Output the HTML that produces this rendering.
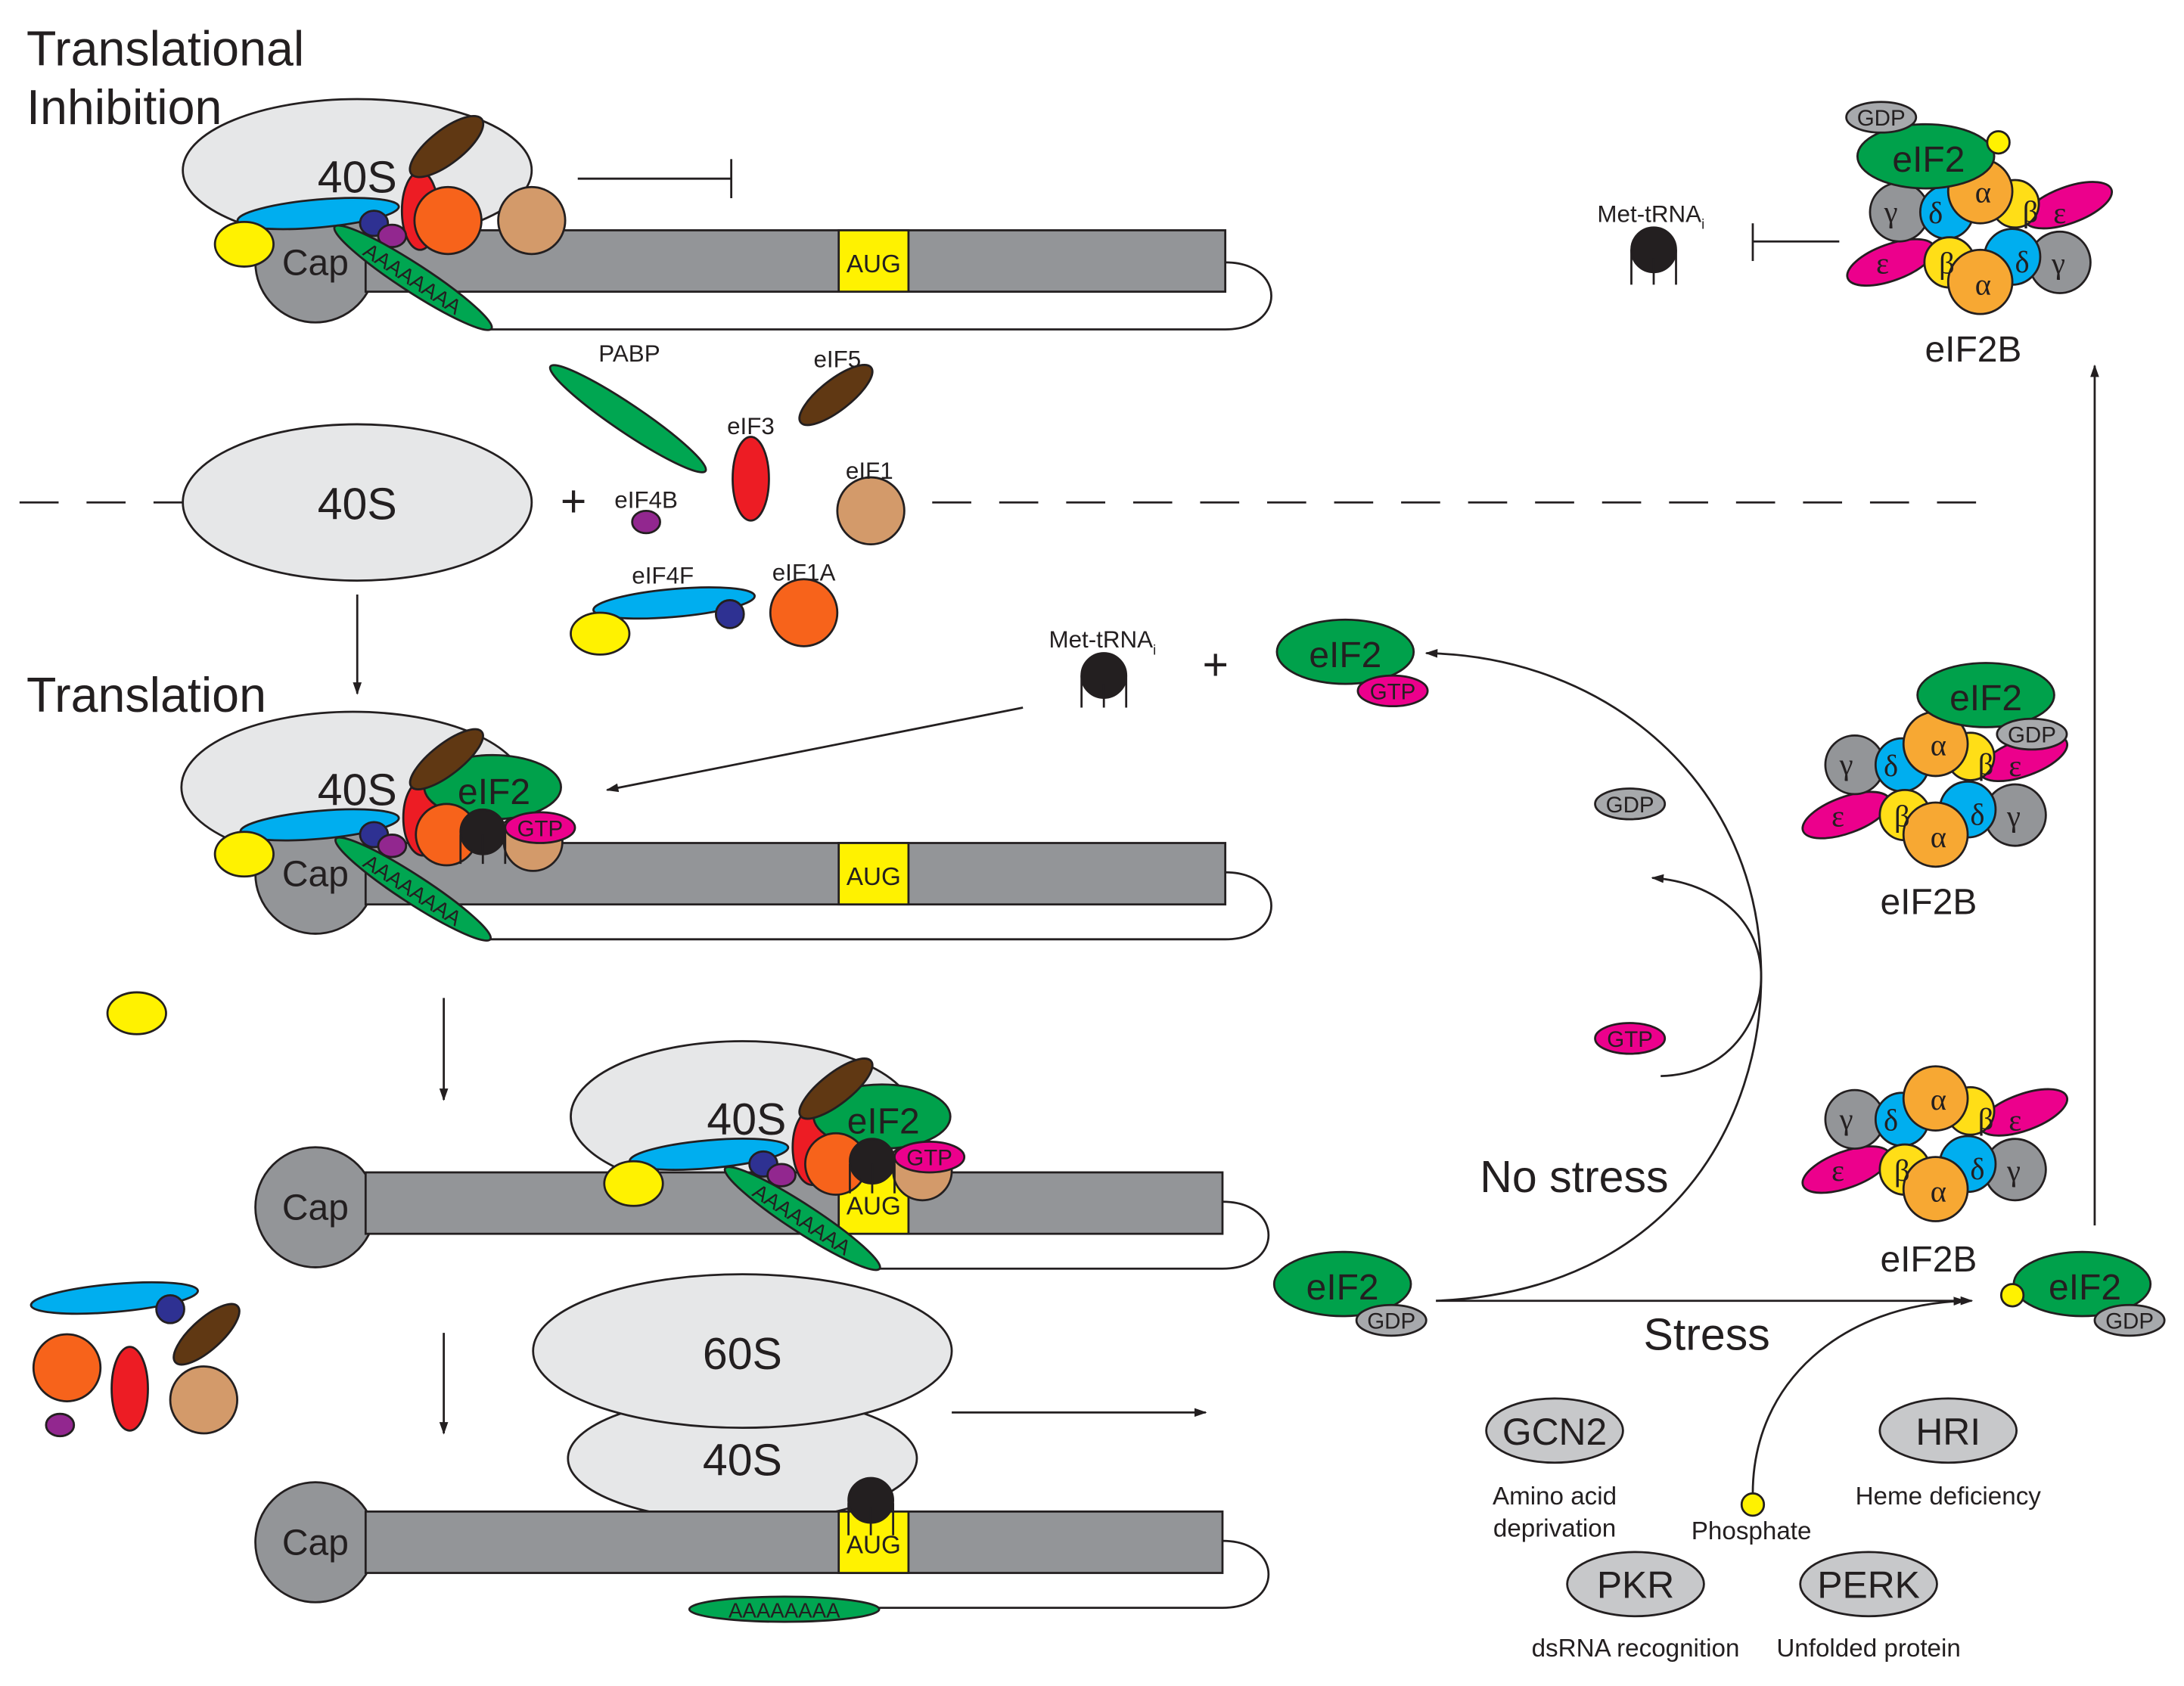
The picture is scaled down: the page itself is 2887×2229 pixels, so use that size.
<!DOCTYPE html>
<html><head><meta charset="utf-8"><style>
html,body{margin:0;padding:0;background:#fff;}
svg{display:block;}
text{font-family:"Liberation Sans",sans-serif;}
.g{font-family:"Liberation Serif",serif;font-size:22px;text-anchor:middle;}
</style></head><body>
<svg width="2887" height="2229" viewBox="0 0 1565 1208" preserveAspectRatio="none" xmlns="http://www.w3.org/2000/svg">
<defs>
<marker id="ah" viewBox="0 0 10 10" refX="9" refY="5" markerWidth="9" markerHeight="9" orient="auto" markerUnits="userSpaceOnUse"><path d="M0,1.5 L10,5 L0,8.5 Z" fill="#231f20"/></marker>
</defs>
<g stroke="#231f20" stroke-width="1.5">

<text x="19" y="47" font-size="35" stroke="none" fill="#231f20">Translational</text>
<text x="19" y="89" font-size="35" stroke="none" fill="#231f20">Inhibition</text>
<text x="19" y="510" font-size="35" stroke="none" fill="#231f20">Translation</text>

<!-- ROW 1 -->
<path d="M878,188 C922,188 922,236 878,236 L350,236" fill="none"/>
<ellipse cx="256" cy="122" rx="125" ry="51" fill="#e6e7e8"/>
<text x="256" y="138" font-size="32" text-anchor="middle" stroke="none" fill="#231f20">40S</text>
<circle cx="226" cy="188" r="43" fill="#939598"/>
<rect x="262" y="165" width="616" height="44" fill="#939598"/>
<rect x="601" y="165" width="50" height="44" fill="#fff200"/>
<text x="626" y="195" font-size="18" text-anchor="middle" stroke="none" fill="#231f20">AUG</text>
<text x="226" y="197" font-size="26" text-anchor="middle" stroke="none" fill="#231f20">Cap</text>
<ellipse cx="228" cy="153" rx="58" ry="10" fill="#00aeef" transform="rotate(-5 228 153)"/>
<ellipse cx="175" cy="175" rx="21" ry="16" fill="#fff200"/>
<ellipse cx="301" cy="151" rx="13" ry="28" fill="#ed1c24"/>
<circle cx="321" cy="158" r="24" fill="#f7631b"/>
<circle cx="381" cy="158" r="24" fill="#d39a6a"/>
<ellipse cx="320" cy="105" rx="32" ry="12" fill="#603813" transform="rotate(-38 320 105)"/>
<ellipse cx="268" cy="160" rx="10" ry="9" fill="#2e3192"/>
<ellipse cx="281" cy="169" rx="10" ry="8" fill="#92278f"/>
<g transform="translate(296,199) rotate(33)"><ellipse cx="0" cy="0" rx="67" ry="10" fill="#00a651"/><text x="0" y="6" font-size="15" text-anchor="middle" stroke="none" fill="#231f20">AAAAAAAA</text></g>
<line x1="414" y1="128" x2="524" y2="128"/>
<line x1="524" y1="114" x2="524" y2="142"/>

<!-- MIDDLE -->
<line x1="14" y1="360" x2="131" y2="360" stroke-dasharray="28,20"/>
<line x1="668" y1="360" x2="1436" y2="360" stroke-dasharray="28,20"/>
<ellipse cx="256" cy="360" rx="125" ry="56" fill="#e6e7e8"/>
<text x="256" y="372" font-size="32" text-anchor="middle" stroke="none" fill="#231f20">40S</text>
<text x="411" y="370" font-size="32" text-anchor="middle" stroke="none" fill="#231f20">+</text>
<ellipse cx="450" cy="300" rx="67" ry="10" fill="#00a651" transform="rotate(34 450 300)"/>
<ellipse cx="599" cy="283" rx="32" ry="11" fill="#603813" transform="rotate(-38 599 283)"/>
<ellipse cx="538" cy="343" rx="13" ry="30" fill="#ed1c24"/>
<circle cx="624" cy="366" r="24" fill="#d39a6a"/>
<ellipse cx="463" cy="374" rx="10" ry="8" fill="#92278f"/>
<ellipse cx="483" cy="432" rx="58" ry="10" fill="#00aeef" transform="rotate(-5 483 432)"/>
<circle cx="523" cy="440" r="10" fill="#2e3192"/>
<ellipse cx="430" cy="454" rx="21" ry="15" fill="#fff200"/>
<circle cx="576" cy="439" r="24" fill="#f7631b"/>
<g font-size="17" text-anchor="middle" stroke="none" fill="#231f20">
<text x="451" y="259">PABP</text>
<text x="600" y="263">eIF5</text>
<text x="538" y="311">eIF3</text>
<text x="623" y="343">eIF1</text>
<text x="463" y="364">eIF4B</text>
<text x="475" y="418">eIF4F</text>
<text x="576" y="416">eIF1A</text>
</g>
<line x1="256" y1="426" x2="256" y2="497" marker-end="url(#ah)"/>

<!-- ROW 2 -->
<path d="M878,625 C922,625 922,673 878,673 L350,673" fill="none"/>
<ellipse cx="253" cy="564" rx="123" ry="54" fill="#e6e7e8"/>
<circle cx="226" cy="626" r="43" fill="#939598"/>
<rect x="262" y="604" width="616" height="44" fill="#939598"/>
<rect x="601" y="604" width="50" height="44" fill="#fff200"/>
<text x="626" y="634" font-size="18" text-anchor="middle" stroke="none" fill="#231f20">AUG</text>
<text x="226" y="635" font-size="26" text-anchor="middle" stroke="none" fill="#231f20">Cap</text>
<g>
<text x="256" y="577" font-size="32" text-anchor="middle" stroke="none" fill="#231f20">40S</text>
<ellipse cx="229" cy="591" rx="57" ry="10" fill="#00aeef" transform="rotate(-5 229 591)"/>
<ellipse cx="175" cy="612" rx="21" ry="16" fill="#fff200"/>
<ellipse cx="303" cy="586" rx="14" ry="27" fill="#ed1c24"/>
<circle cx="382" cy="603" r="21" fill="#d39a6a"/>
<ellipse cx="353" cy="564" rx="49" ry="23" fill="#00a14b"/>
<text x="354" y="576" font-size="26" text-anchor="middle" stroke="none" fill="#231f20">eIF2</text>
<circle cx="320" cy="598" r="22" fill="#f7631b"/>
<ellipse cx="320" cy="544" rx="32" ry="11" fill="#603813" transform="rotate(-38 320 544)"/>
<ellipse cx="387" cy="593" rx="25" ry="11" fill="#ec008c"/>
<text x="387" y="599" font-size="16" text-anchor="middle" stroke="none" fill="#231f20">GTP</text>
<circle cx="346" cy="596" r="16" fill="#231f20"/>
<path d="M330,598 V619 M346,598 V619 M362,598 V619" fill="none"/>
<ellipse cx="268" cy="598" rx="10" ry="9" fill="#2e3192"/>
<ellipse cx="281" cy="606" rx="10" ry="8" fill="#92278f"/>
<g transform="translate(296,637) rotate(33)"><ellipse cx="0" cy="0" rx="66" ry="10" fill="#00a651"/><text x="0" y="6" font-size="15" text-anchor="middle" stroke="none" fill="#231f20">AAAAAAAA</text></g>
</g>

<line x1="733" y1="507" x2="435" y2="566" marker-end="url(#ah)"/>
<text x="790" y="464" font-size="17" text-anchor="middle" stroke="none" fill="#231f20">Met-tRNA<tspan font-size="10" dy="5">i</tspan></text>
<circle cx="791" cy="484" r="16" fill="#231f20"/>
<path d="M775,484 V507 M791,490 V507 M807,484 V507" fill="none"/>
<text x="871" y="487" font-size="32" text-anchor="middle" stroke="none" fill="#231f20">+</text>
<ellipse cx="964" cy="467" rx="49" ry="23" fill="#00a14b"/>
<text x="964" y="478" font-size="26" text-anchor="middle" stroke="none" fill="#231f20">eIF2</text>
<ellipse cx="998" cy="495" rx="25" ry="11" fill="#ec008c"/>
<text x="998" y="501" font-size="16" text-anchor="middle" stroke="none" fill="#231f20">GTP</text>

<ellipse cx="98" cy="726" rx="21" ry="15" fill="#fff200"/>
<line x1="318" y1="715" x2="318" y2="788" marker-end="url(#ah)"/>

<!-- ROW 3 -->
<path d="M876,861 C920,861 920,909 876,909 L630,909" fill="none"/>
<ellipse cx="532" cy="800" rx="123" ry="54" fill="#e6e7e8"/>
<circle cx="226" cy="865" r="43" fill="#939598"/>
<rect x="262" y="840" width="614" height="44" fill="#939598"/>
<rect x="601" y="840" width="50" height="44" fill="#fff200"/>
<text x="626" y="870" font-size="18" text-anchor="middle" stroke="none" fill="#231f20">AUG</text>
<text x="226" y="874" font-size="26" text-anchor="middle" stroke="none" fill="#231f20">Cap</text>
<g transform="translate(279,236)">
<text x="256" y="577" font-size="32" text-anchor="middle" stroke="none" fill="#231f20">40S</text>
<ellipse cx="229" cy="591" rx="57" ry="10" fill="#00aeef" transform="rotate(-5 229 591)"/>
<ellipse cx="175" cy="612" rx="21" ry="16" fill="#fff200"/>
<ellipse cx="303" cy="586" rx="14" ry="27" fill="#ed1c24"/>
<circle cx="382" cy="603" r="21" fill="#d39a6a"/>
<ellipse cx="353" cy="564" rx="49" ry="23" fill="#00a14b"/>
<text x="354" y="576" font-size="26" text-anchor="middle" stroke="none" fill="#231f20">eIF2</text>
<circle cx="320" cy="598" r="22" fill="#f7631b"/>
<ellipse cx="320" cy="544" rx="32" ry="11" fill="#603813" transform="rotate(-38 320 544)"/>
<ellipse cx="387" cy="593" rx="25" ry="11" fill="#ec008c"/>
<text x="387" y="599" font-size="16" text-anchor="middle" stroke="none" fill="#231f20">GTP</text>
<circle cx="346" cy="596" r="16" fill="#231f20"/>
<path d="M330,598 V619 M346,598 V619 M362,598 V619" fill="none"/>
<ellipse cx="268" cy="598" rx="10" ry="9" fill="#2e3192"/>
<ellipse cx="281" cy="606" rx="10" ry="8" fill="#92278f"/>
<g transform="translate(296,637) rotate(33)"><ellipse cx="0" cy="0" rx="66" ry="10" fill="#00a651"/><text x="0" y="6" font-size="15" text-anchor="middle" stroke="none" fill="#231f20">AAAAAAAA</text></g>
</g>

<ellipse cx="82" cy="930" rx="60" ry="10" fill="#00aeef" transform="rotate(-5 82 930)"/>
<circle cx="122" cy="938" r="10" fill="#2e3192"/>
<ellipse cx="148" cy="956" rx="30" ry="11" fill="#603813" transform="rotate(-42 148 956)"/>
<circle cx="48" cy="980" r="24" fill="#f7631b"/>
<ellipse cx="93" cy="995" rx="13" ry="30" fill="#ed1c24"/>
<circle cx="146" cy="1003" r="24" fill="#d39a6a"/>
<ellipse cx="43" cy="1021" rx="10" ry="8" fill="#92278f"/>

<line x1="318" y1="955" x2="318" y2="1027" marker-end="url(#ah)"/>

<!-- ROW 4 -->
<path d="M876,1104 C920,1104 920,1152 876,1152 L629,1152" fill="none"/>
<ellipse cx="532" cy="1045" rx="125" ry="45" fill="#e6e7e8"/>
<ellipse cx="532" cy="968" rx="150" ry="55" fill="#e6e7e8"/>
<text x="532" y="981" font-size="32" text-anchor="middle" stroke="none" fill="#231f20">60S</text>
<text x="532" y="1057" font-size="32" text-anchor="middle" stroke="none" fill="#231f20">40S</text>
<circle cx="226" cy="1105" r="43" fill="#939598"/>
<rect x="262" y="1083" width="614" height="44" fill="#939598"/>
<rect x="601" y="1083" width="50" height="44" fill="#fff200"/>
<text x="626" y="1113" font-size="18" text-anchor="middle" stroke="none" fill="#231f20">AUG</text>
<text x="226" y="1114" font-size="26" text-anchor="middle" stroke="none" fill="#231f20">Cap</text>
<circle cx="624" cy="1075" r="16" fill="#231f20"/>
<path d="M608,1077 V1100 M624,1080 V1100 M640,1077 V1100" fill="none"/>
<ellipse cx="562" cy="1153" rx="68" ry="9" fill="#00a651"/>
<text x="562" y="1159" font-size="15" text-anchor="middle" stroke="none" fill="#231f20">AAAAAAAA</text>
<line x1="682" y1="1012" x2="864" y2="1012" marker-end="url(#ah)"/>

<!-- RIGHT CYCLE -->
<path d="M1029,932 C1200,925 1262,800 1262,700 C1262,560 1150,470 1022,468" fill="none" marker-end="url(#ah)"/>
<path d="M1190,771 C1240,770 1262,730 1262,700 C1262,660 1230,632 1184,629" fill="none" marker-end="url(#ah)"/>
<line x1="1029" y1="932" x2="1413" y2="932" marker-end="url(#ah)"/>
<path d="M1256,1070 C1256,990 1320,935 1408,932" fill="none" marker-end="url(#ah)"/>
<line x1="1501" y1="878" x2="1501" y2="262" marker-end="url(#ah)"/>

<ellipse cx="1168" cy="576" rx="25" ry="11" fill="#a7a9ac"/>
<text x="1168" y="582" font-size="16" text-anchor="middle" stroke="none" fill="#231f20">GDP</text>
<ellipse cx="1168" cy="744" rx="25" ry="11" fill="#ec008c"/>
<text x="1168" y="750" font-size="16" text-anchor="middle" stroke="none" fill="#231f20">GTP</text>
<text x="1128" y="854" font-size="32" text-anchor="middle" stroke="none" fill="#231f20">No stress</text>
<text x="1223" y="967" font-size="32" text-anchor="middle" stroke="none" fill="#231f20">Stress</text>

<ellipse cx="962" cy="920" rx="49" ry="23" fill="#00a14b"/>
<text x="962" y="931" font-size="26" text-anchor="middle" stroke="none" fill="#231f20">eIF2</text>
<ellipse cx="997" cy="946" rx="25" ry="11" fill="#a7a9ac"/>
<text x="997" y="952" font-size="16" text-anchor="middle" stroke="none" fill="#231f20">GDP</text>

<ellipse cx="1492" cy="920" rx="49" ry="23" fill="#00a14b"/>
<text x="1494" y="931" font-size="26" text-anchor="middle" stroke="none" fill="#231f20">eIF2</text>
<ellipse cx="1526" cy="946" rx="25" ry="11" fill="#a7a9ac"/>
<text x="1526" y="952" font-size="16" text-anchor="middle" stroke="none" fill="#231f20">GDP</text>
<circle cx="1442" cy="928" r="8" fill="#fff200"/>

<ellipse cx="1114" cy="1025" rx="49" ry="23" fill="#c7c8ca"/>
<ellipse cx="1396" cy="1025" rx="49" ry="23" fill="#c7c8ca"/>
<ellipse cx="1172" cy="1135" rx="49" ry="23" fill="#c7c8ca"/>
<ellipse cx="1339" cy="1135" rx="49" ry="23" fill="#c7c8ca"/>
<circle cx="1256" cy="1078" r="8" fill="#fff200"/>
<g stroke="none" fill="#231f20" text-anchor="middle">
<text x="1114" y="1035" font-size="27">GCN2</text>
<text x="1396" y="1035" font-size="27">HRI</text>
<text x="1172" y="1145" font-size="27">PKR</text>
<text x="1339" y="1145" font-size="27">PERK</text>
<text x="1114" y="1078" font-size="18">Amino acid</text>
<text x="1114" y="1101" font-size="18">deprivation</text>
<text x="1396" y="1078" font-size="18">Heme deficiency</text>
<text x="1255" y="1103" font-size="18">Phosphate</text>
<text x="1172" y="1187" font-size="18">dsRNA recognition</text>
<text x="1339" y="1187" font-size="18">Unfolded protein</text>
</g>

<text x="1183" y="159" font-size="17" text-anchor="middle" stroke="none" fill="#231f20">Met-tRNA<tspan font-size="10" dy="5">i</tspan></text>
<circle cx="1185" cy="179" r="16" fill="#231f20"/>
<path d="M1169,179 V204 M1185,185 V204 M1201,179 V204" fill="none"/>
<line x1="1256" y1="173" x2="1318" y2="173"/>
<line x1="1256" y1="160" x2="1256" y2="187"/>

<!-- eIF2B top -->
<g transform="translate(1419,170)">
<ellipse cx="63" cy="-23" rx="33" ry="13" fill="#ec008c" transform="rotate(-20 63 -23)"/>
<ellipse cx="-64" cy="18" rx="33" ry="13" fill="#ec008c" transform="rotate(-20 -64 18)"/>
<circle cx="-58" cy="-18" r="21" fill="#939598"/>
<circle cx="57" cy="18" r="22" fill="#939598"/>
<circle cx="-24" cy="-18" r="19" fill="#00aeef"/>
<circle cx="25" cy="-24" r="17" fill="#ffde17"/>
<circle cx="-22" cy="18" r="18" fill="#ffde17"/>
<circle cx="23" cy="14" r="20" fill="#00aeef"/>
<circle cx="0" cy="-33" r="23" fill="#f7a833"/>
<circle cx="0" cy="32" r="23" fill="#f7a833"/>
<g stroke="none" fill="#231f20">
<text class="g" x="-64" y="-11">γ</text><text class="g" x="-32" y="-10">δ</text><text class="g" x="2" y="-25">α</text><text class="g" x="36" y="-11">β</text><text class="g" x="57" y="-10">ε</text>
<text class="g" x="-70" y="26">ε</text><text class="g" x="-24" y="26">β</text><text class="g" x="2" y="41">α</text><text class="g" x="30" y="25">δ</text><text class="g" x="56" y="26">γ</text>
</g>
</g>
<ellipse cx="1380" cy="112" rx="49" ry="23" fill="#00a14b"/>
<text x="1382" y="123" font-size="26" text-anchor="middle" stroke="none" fill="#231f20">eIF2</text>
<ellipse cx="1348" cy="84" rx="25" ry="11" fill="#a7a9ac"/>
<text x="1348" y="90" font-size="16" text-anchor="middle" stroke="none" fill="#231f20">GDP</text>
<circle cx="1432" cy="102" r="8" fill="#fff200"/>
<text x="1414" y="259" font-size="26" text-anchor="middle" stroke="none" fill="#231f20">eIF2B</text>

<!-- eIF2B middle -->
<g transform="translate(1387,566)">
<ellipse cx="63" cy="-23" rx="33" ry="13" fill="#ec008c" transform="rotate(-20 63 -23)"/>
<ellipse cx="-64" cy="18" rx="33" ry="13" fill="#ec008c" transform="rotate(-20 -64 18)"/>
<circle cx="-58" cy="-18" r="21" fill="#939598"/>
<circle cx="57" cy="18" r="22" fill="#939598"/>
<circle cx="-24" cy="-18" r="19" fill="#00aeef"/>
<circle cx="25" cy="-24" r="17" fill="#ffde17"/>
<circle cx="-22" cy="18" r="18" fill="#ffde17"/>
<circle cx="23" cy="14" r="20" fill="#00aeef"/>
<circle cx="0" cy="-33" r="23" fill="#f7a833"/>
<circle cx="0" cy="32" r="23" fill="#f7a833"/>
<g stroke="none" fill="#231f20">
<text class="g" x="-64" y="-11">γ</text><text class="g" x="-32" y="-10">δ</text><text class="g" x="2" y="-25">α</text><text class="g" x="36" y="-11">β</text><text class="g" x="57" y="-10">ε</text>
<text class="g" x="-70" y="26">ε</text><text class="g" x="-24" y="26">β</text><text class="g" x="2" y="41">α</text><text class="g" x="30" y="25">δ</text><text class="g" x="56" y="26">γ</text>
</g>
</g>
<ellipse cx="1423" cy="498" rx="49" ry="23" fill="#00a14b"/>
<text x="1423" y="509" font-size="26" text-anchor="middle" stroke="none" fill="#231f20">eIF2</text>
<ellipse cx="1456" cy="526" rx="25" ry="11" fill="#a7a9ac"/>
<text x="1456" y="532" font-size="16" text-anchor="middle" stroke="none" fill="#231f20">GDP</text>
<text x="1382" y="655" font-size="26" text-anchor="middle" stroke="none" fill="#231f20">eIF2B</text>

<!-- eIF2B bottom -->
<g transform="translate(1387,820)">
<ellipse cx="63" cy="-23" rx="33" ry="13" fill="#ec008c" transform="rotate(-20 63 -23)"/>
<ellipse cx="-64" cy="18" rx="33" ry="13" fill="#ec008c" transform="rotate(-20 -64 18)"/>
<circle cx="-58" cy="-18" r="21" fill="#939598"/>
<circle cx="57" cy="18" r="22" fill="#939598"/>
<circle cx="-24" cy="-18" r="19" fill="#00aeef"/>
<circle cx="25" cy="-24" r="17" fill="#ffde17"/>
<circle cx="-22" cy="18" r="18" fill="#ffde17"/>
<circle cx="23" cy="14" r="20" fill="#00aeef"/>
<circle cx="0" cy="-33" r="23" fill="#f7a833"/>
<circle cx="0" cy="32" r="23" fill="#f7a833"/>
<g stroke="none" fill="#231f20">
<text class="g" x="-64" y="-11">γ</text><text class="g" x="-32" y="-10">δ</text><text class="g" x="2" y="-25">α</text><text class="g" x="36" y="-11">β</text><text class="g" x="57" y="-10">ε</text>
<text class="g" x="-70" y="26">ε</text><text class="g" x="-24" y="26">β</text><text class="g" x="2" y="41">α</text><text class="g" x="30" y="25">δ</text><text class="g" x="56" y="26">γ</text>
</g>
</g>
<text x="1382" y="911" font-size="26" text-anchor="middle" stroke="none" fill="#231f20">eIF2B</text>

</g>
</svg>
</body></html>
